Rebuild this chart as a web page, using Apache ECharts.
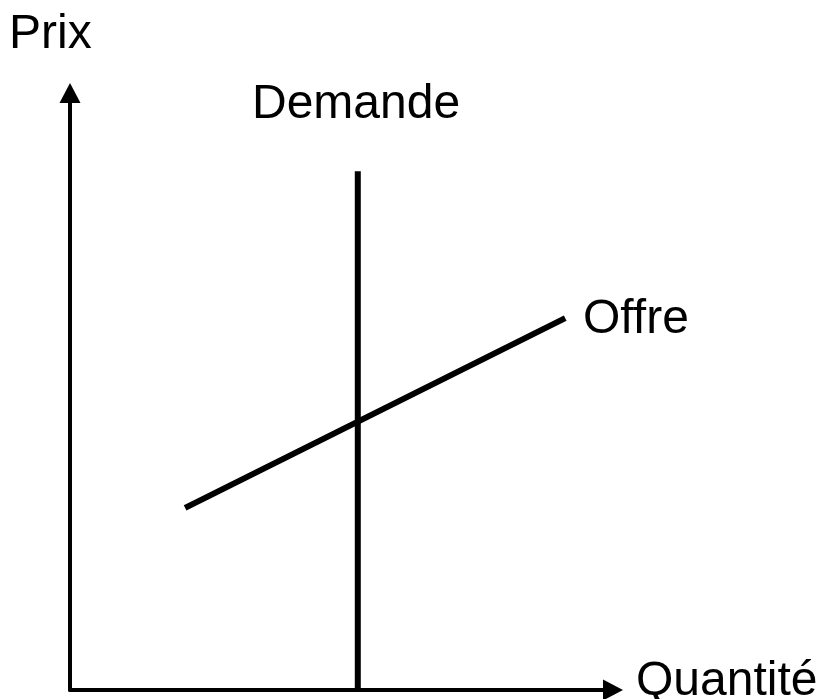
<!DOCTYPE html>
<html>
<head>
<meta charset="utf-8">
<script src="https://cdn.jsdelivr.net/npm/echarts@6/dist/echarts.min.js"></script>
<style>
html,body{margin:0;padding:0;background:#fff;}
#chart{width:822px;height:699px;}
</style>
</head>
<body>
<div id="chart"></div>
<script>
// Data
const axisNames = ['Quantité', 'Prix'];
const seriesNames = ['Demande', 'Offre'];
const quantityRange = [0, 10];
const priceRange = [0, 10];
const demandQuantity = [5.30, 5.30];
const demandPrice = [0, 8.69];
const supplyQuantity = [2.12, 9.12];
const supplyPrice = [3.05, 6.23];

const zip = (xs, ys) => xs.map((x, i) => [x, ys[i]]);
const FONT = '48px "Liberation Sans", Arial, sans-serif';

const chart = echarts.init(document.getElementById('chart'), null, {renderer: 'canvas'});
const axisCommon = {
  type: 'value',
  axisLine: {
    show: true,
    onZero: false,
    symbol: ['none', 'triangle'],
    symbolSize: [21, 20],
    lineStyle: {color: '#000', width: 4}
  },
  axisTick: {show: false},
  axisLabel: {show: false},
  splitLine: {show: false}
};
chart.setOption({
  animation: false,
  backgroundColor: '#fff',
  grid: {left: 70, right: 209, top: 93, bottom: 9, containLabel: false},
  xAxis: Object.assign({}, axisCommon, {min: quantityRange[0], max: quantityRange[1]}),
  yAxis: Object.assign({}, axisCommon, {min: priceRange[0], max: priceRange[1]}),
  graphic: [
    {type: 'text', left: 9, top: 11, style: {text: axisNames[1], font: FONT, fill: '#000'}},
    {type: 'text', left: 252, top: 81, style: {text: seriesNames[0], font: FONT, fill: '#000'}},
    {type: 'text', left: 583, top: 296, style: {text: seriesNames[1], font: FONT, fill: '#000'}},
    {type: 'text', left: 636, top: 658, style: {text: axisNames[0], font: FONT, fill: '#000'}}
  ],
  series: [
    {
      name: seriesNames[0], type: 'line', data: zip(demandQuantity, demandPrice),
      symbol: 'none', lineStyle: {color: '#000', width: 6, cap: 'butt'}, clip: false
    },
    {
      name: seriesNames[1], type: 'line', data: zip(supplyQuantity, supplyPrice),
      symbol: 'none', lineStyle: {color: '#000', width: 6, cap: 'butt'}, clip: false
    }
  ]
});
</script>
</body>
</html>
